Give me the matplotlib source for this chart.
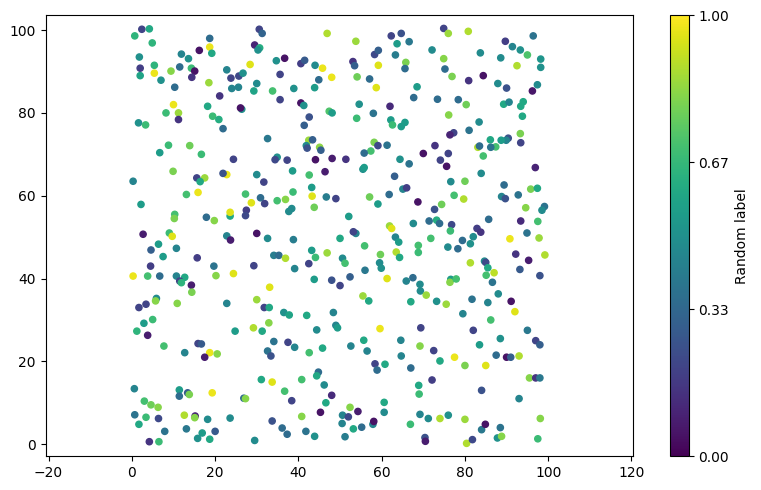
import matplotlib
matplotlib.use("Agg")
import matplotlib.pyplot as plt

# values, grouped by region (top band, middle band, bottom band)
x_top = [2.4, 4.2, 0.7, 4.9, 18.7, 18.7, 16.2, 19.2, 1.8, 11.9, 13.6, 5.4, 2.0, 2.0, 5.4, 9.4, 11.5, 14.3, 15.1, 14.4,
         7.0, 10.3, 18.5, 21.1, 10.0, 11.2, 11.2, 8.2, 18.2, 19.4, 20.9, 21.9, 1.6, 3.3, 8.8, 6.7, 13.9, 16.7,
         30.6, 31.3, 46.9, 29.5, 30.7, 30.3, 28.4, 34.7, 36.7, 40.6, 41.5, 44.0, 45.8, 48.0, 44.9, 43.9,
         22.8, 23.8, 24.0, 25.7, 26.7, 25.6, 30.0, 29.3, 33.8, 38.9, 35.6, 35.6, 26.4, 26.1,
         40.6, 41.3, 47.4, 48.1, 42.6, 41.4, 32.6, 42.5, 43.4, 41.9, 42.1, 45.1, 45.4, 24.4, 34.9, 34.4, 37.3, 44.1, 48.1,
         53.8, 62.3, 64.7, 63.7, 66.6, 58.3, 59.2, 63.3, 72.1, 53.1, 53.5, 59.2, 65.8, 65.6, 54.1, 57.1, 58.7,
         68.5, 67.7, 73.4, 54.6, 62.0, 58.0, 54.0, 62.2, 62.6, 65.6, 64.7, 58.2, 59.1, 57.4, 55.8, 61.3, 70.0,
         72.8, 51.4, 64.4,
         74.9, 76.0, 80.8, 96.4, 89.7, 91.4, 93.3, 95.0, 98.2, 98.2, 83.7, 88.6, 92.5, 74.9, 75.2, 76.9, 80.9,
         84.4, 87.9, 90.0, 97.4, 96.2, 78.4, 80.3, 89.3, 90.6, 94.0, 93.4, 93.8, 76.1, 83.4, 81.0, 77.3, 76.4,
         93.3, 93.4, 90.4, 89.9, 88.7, 86.1, 87.4, 86.2, 83.1, 83.5, 84.4, 76.0, 74.1]
y_top = [100.2, 100.3, 98.6, 96.9, 98.0, 95.9, 95.1, 94.4, 93.5, 94.2, 93.1, 91.5, 90.8, 89.0, 89.6, 90.1, 91.1, 90.8,
         90.1, 88.6, 87.9, 86.2, 87.3, 84.1, 82.0, 80.0, 78.4, 80.0, 81.6, 79.2, 78.4, 76.2, 77.6, 77.1, 72.2, 70.4,
         72.1, 70.0,
         100.2, 99.2, 99.2, 96.4, 95.7, 95.2, 91.7, 92.6, 93.2, 91.9, 92.7, 91.5, 90.8, 88.6, 88.0, 86.1,
         90.4, 88.4, 85.9, 88.9, 89.6, 86.2, 87.1, 85.3, 85.3, 85.9, 89.3, 83.2, 80.9, 81.2,
         82.4, 81.8, 80.4, 80.0, 79.0, 77.0, 73.8, 73.4, 73.5, 72.1, 71.5, 71.7, 71.0, 68.8, 69.3, 68.7, 68.6, 68.7, 69.0,
         97.3, 98.6, 99.2, 96.7, 97.2, 94.1, 95.1, 94.0, 95.2, 92.4, 91.4, 91.5, 92.2, 90.7, 88.7, 88.2, 86.1,
         86.3, 83.7, 83.3, 82.1, 81.6, 79.9, 78.7, 78.3, 77.1, 77.7, 76.7, 72.9, 72.1, 70.8, 70.3, 72.2, 70.2,
         72.1, 68.8, 68.8,
         100.4, 99.2, 99.7, 98.6, 97.3, 96.0, 95.2, 94.0, 93.0, 91.0, 94.5, 93.3, 91.4, 93.1, 90.6, 88.8, 87.8,
         89.0, 87.1, 86.0, 86.8, 85.3, 83.2, 82.0, 82.1, 82.6, 82.7, 81.6, 79.2, 79.5, 77.8, 75.8, 75.2, 74.7,
         75.0, 72.8, 73.9, 73.4, 73.4, 73.5, 71.8, 71.7, 71.7, 72.0, 69.6, 70.2, 68.6]
c_top = [0.2, 0.6, 0.65, 0.65, 0.35, 0.97, 0.05, 0.6, 0.5, 0.45, 0.5, 0.65, 0.18, 0.58, 0.97, 0.82, 0.35, 0.68, 0.05,
         0.15, 0.5, 0.35, 0.85, 0.15, 0.97, 0.85, 0.15, 0.68, 0.6, 0.68, 0.62, 0.35, 0.5, 0.68, 0.68, 0.55, 0.78, 0.68,
         0.2, 0.32, 0.88, 0.1, 0.62, 0.5, 0.95, 0.5, 0.05, 0.18, 0.28, 0.48, 0.97, 0.97, 0.35, 0.55,
         0.45, 0.2, 0.45, 0.22, 0.5, 0.45, 0.48, 0.58, 0.7, 0.5, 0.2, 0.2, 0.5, 0.05,
         0.05, 0.5, 0.72, 0.55, 0.25, 0.3, 0.4, 0.85, 0.3, 0.48, 0.25, 0.83, 0.3, 0.2, 0.5, 0.22, 0.2, 0.05, 0.08,
         0.85, 0.2, 0.25, 0.55, 0.4, 0.22, 0.3, 0.42, 0.48, 0.15, 0.3, 0.95, 0.8, 0.35, 0.78, 0.35, 0.95,
         0.55, 0.35, 0.35, 0.5, 0.12, 0.38, 0.68, 0.55, 0.68, 0.55, 0.55, 0.8, 0.22, 0.7, 0.35, 0.38, 0.05,
         0.15, 0.15, 0.5,
         0.2, 0.85, 0.88, 0.38, 0.18, 0.45, 0.5, 0.72, 0.52, 0.5, 0.48, 0.48, 0.88, 0.82, 0.35, 0.8, 0.15,
         0.05, 0.48, 0.25, 0.48, 0.06, 0.35, 0.78, 0.6, 0.45, 0.6, 0.6, 0.6, 0.82, 0.48, 0.38, 0.2, 0.1,
         0.8, 0.2, 0.25, 0.45, 0.55, 0.6, 0.7, 0.38, 0.88, 0.35, 0.7, 0.2, 0.2]

x_mid = [9.9, 0.3, 15.6, 17.5, 16.4, 22.8, 21.9, 13.1, 15.9, 2.2, 10.3, 10.2, 17.9, 19.8, 2.7, 9.0, 9.7, 6.4, 4.6,
         10.7, 7.5, 15.7, 4.5, 19.7, 0.3, 3.8, 6.7, 10.7, 12.7, 11.5, 11.9, 14.3, 20.2, 14.4, 5.9, 5.7,
         30.0, 31.7, 38.6, 42.6, 46.4, 43.2, 43.3, 46.7, 27.3, 30.9, 31.9, 28.7, 34.9, 36.9, 38.7, 43.8, 38.4,
         37.7, 23.6, 23.6, 27.5, 27.3, 22.8, 23.7, 30.0, 32.6, 38.8, 43.2, 46.9, 44.1, 34.1, 35.3, 36.9, 42.5,
         29.3, 39.1, 24.4, 43.8, 48.0, 33.1, 30.0,
         66.6, 55.5, 55.8, 63.1, 65.1, 66.0, 57.1, 61.8, 49.0, 59.1, 68.7, 72.7, 52.1, 61.9, 62.4, 67.6, 71.4,
         53.8, 53.2, 50.0, 63.3, 64.1, 71.8, 55.9, 68.8, 68.8, 63.5, 64.3, 59.7, 50.6, 51.2, 59.5, 59.9, 56.0,
         52.4, 61.3, 50.0, 67.5, 65.9, 69.2, 69.3, 70.7, 73.2, 55.5, 56.9, 67.0,
         75.6, 96.9, 83.9, 76.6, 80.0, 89.4, 95.8, 97.4, 77.4, 79.7, 88.8, 89.7, 92.8, 74.4, 94.6, 99.1, 98.5,
         73.2, 73.9, 85.7, 93.4, 97.5, 76.8, 76.5, 82.9, 83.8, 82.0, 79.4, 81.3, 75.9, 78.3, 90.8, 94.9, 97.8,
         92.2, 95.3, 99.2, 93.2, 98.0, 81.3, 84.7, 85.0, 85.5, 87.0, 85.1, 86.6, 76.6, 76.4, 77.9, 88.0, 81.7,
         85.5, 91.1]
y_mid = [65.9, 63.5, 64.3, 64.3, 63.4, 65.1, 65.4, 60.3, 60.8, 57.9, 55.5, 54.5, 54.8, 54.0, 50.7, 51.0, 50.2, 48.3,
         46.9, 47.3, 45.3, 45.0, 43.0, 43.0, 40.6, 40.6, 40.6, 40.6, 40.3, 39.4, 39.0, 38.4, 40.7, 36.7, 35.2, 34.6,
         65.1, 63.3, 66.0, 65.0, 65.8, 62.0, 59.9, 59.7, 60.4, 59.5, 58.1, 58.3, 58.8, 59.1, 60.9, 57.2, 56.9,
         56.2, 55.1, 56.0, 56.5, 55.2, 50.3, 49.3, 50.9, 49.7, 49.4, 46.8, 46.2, 45.1, 45.6, 45.6, 44.9, 43.6,
         43.1, 42.4, 41.2, 39.8, 39.6, 37.9, 34.9,
         67.7, 66.4, 66.8, 64.7, 61.6, 61.9, 59.7, 60.3, 59.3, 58.0, 58.5, 56.7, 55.0, 52.7, 52.1, 53.3, 53.9,
         50.9, 51.3, 49.7, 50.0, 48.8, 49.7, 47.9, 48.0, 46.3, 46.4, 45.1, 45.8, 44.9, 43.7, 43.8, 42.5, 42.0,
         40.4, 40.0, 38.3, 40.2, 39.4, 38.6, 37.0, 36.0, 34.5, 35.8, 34.6, 34.4,
         67.1, 66.8, 65.4, 63.4, 63.5, 62.6, 61.6, 61.8, 60.1, 59.2, 59.8, 59.3, 60.2, 57.9, 57.1, 57.4, 56.5,
         54.1, 53.3, 54.3, 53.9, 53.8, 53.0, 51.5, 52.1, 51.2, 50.1, 49.2, 48.4, 47.6, 47.2, 49.6, 51.0, 49.8,
         45.9, 44.4, 45.7, 42.2, 40.7, 43.8, 44.2, 43.9, 42.6, 41.4, 40.8, 39.1, 39.8, 39.1, 39.9, 36.3, 35.0,
         34.2, 34.5]
c_mid = [0.8, 0.45, 0.2, 0.85, 0.6, 0.97, 0.25, 0.7, 0.97, 0.55, 0.7, 0.8, 0.35, 0.82, 0.08, 0.68, 0.95, 0.55, 0.3,
         0.45, 0.55, 0.18, 0.18, 0.38, 0.97, 0.7, 0.35, 0.45, 0.6, 0.2, 0.65, 0.08, 0.82, 0.8, 0.48, 0.82,
         0.48, 0.2, 0.55, 0.7, 0.08, 0.55, 0.95, 0.42, 0.7, 0.35, 0.2, 0.95, 0.7, 0.82, 0.68, 0.78, 0.48,
         0.48, 0.6, 0.95, 0.18, 0.22, 0.45, 0.08, 0.05, 0.48, 0.42, 0.55, 0.85, 0.68, 0.42, 0.35, 0.88, 0.2,
         0.2, 0.45, 0.95, 0.55, 0.25, 0.95, 0.85,
         0.38, 0.5, 0.55, 0.3, 0.45, 0.18, 0.78, 0.35, 0.2, 0.55, 0.05, 0.25, 0.55, 0.85, 0.95, 0.48, 0.35,
         0.45, 0.2, 0.6, 0.45, 0.55, 0.7, 0.7, 0.7, 0.68, 0.88, 0.6, 0.78, 0.48, 0.7, 0.48, 0.5, 0.4,
         0.3, 0.95, 0.2, 0.35, 0.45, 0.48, 0.48, 0.85, 0.5, 0.85, 0.6, 0.6,
         0.05, 0.1, 0.48, 0.48, 0.78, 0.35, 0.8, 0.6, 0.7, 0.88, 0.45, 0.25, 0.38, 0.78, 0.82, 0.38, 0.48,
         0.62, 0.35, 0.35, 0.12, 0.7, 0.22, 0.68, 0.18, 0.15, 0.48, 0.35, 0.5, 0.48, 0.35, 0.97, 0.38, 0.85,
         0.15, 0.08, 0.88, 0.28, 0.25, 0.88, 0.48, 0.22, 0.6, 0.9, 0.7, 0.38, 0.55, 0.82, 0.7, 0.48, 0.38,
         0.45, 0.05]

x_low = [1.7, 3.4, 10.9, 22.8, 2.9, 5.0, 1.2, 3.8, 7.7, 15.9, 16.7, 12.7, 18.7, 20.5, 17.5, 0.6, 11.4, 11.4, 13.4,
         13.8, 19.3, 3.0, 4.6, 6.3, 0.7, 3.4, 6.4, 1.7, 12.6, 15.2, 15.1, 18.2, 7.9, 13.1, 16.9, 15.8, 18.7, 20.0,
         4.2, 6.5,
         31.8, 33.0, 36.5, 37.8, 42.0, 48.4, 29.2, 32.9, 31.3, 24.8, 44.4, 34.1, 37.5, 39.1, 32.6, 33.4, 42.6,
         45.8, 31.1, 33.7, 40.8, 44.8, 44.4, 46.2, 36.7, 26.9, 27.3, 38.4, 48.0, 46.6, 45.3, 40.8, 23.6, 33.7,
         36.1, 37.3, 41.8, 43.9, 29.5,
         49.0, 49.4, 59.6, 69.4, 55.7, 64.6, 69.2, 72.5, 52.6, 56.5, 74.0, 58.4, 60.8, 58.9, 64.7, 67.0, 72.1,
         68.9, 69.0, 60.6, 60.6, 52.4, 54.3, 50.6, 52.0, 50.5, 53.2, 55.2, 57.9, 58.1, 51.2, 69.2, 71.2, 66.9,
         70.4, 70.5, 74.0,
         75.5, 79.5, 86.2, 82.0, 88.5, 83.5, 92.0, 95.0, 97.0, 98.0, 90.0, 91.0, 93.0, 80.0, 77.5, 85.0, 87.5,
         95.5, 97.0, 98.0, 84.0, 80.0, 76.0, 93.0, 84.0, 88.5, 80.4, 81.8, 87.8, 88.8, 97.5, 84.9, 98.1]
y_low = [33.0, 33.8, 34.0, 34.0, 29.2, 30.1, 27.3, 26.3, 23.7, 24.3, 24.2, 22.1, 22.1, 21.8, 21.0, 13.4, 13.1, 11.6,
         12.4, 12.0, 12.4, 10.4, 9.5, 8.9, 7.1, 6.5, 6.2, 4.8, 7.0, 6.8, 6.4, 6.0, 3.1, 3.7, 2.7, 1.4, 1.2, 3.1,
         0.6, 0.6,
         33.0, 33.0, 31.8, 31.2, 31.1, 31.8, 28.1, 29.3, 27.3, 27.3, 27.6, 24.8, 24.6, 23.4, 22.5, 21.3, 22.1,
         23.2, 15.6, 15.0, 15.6, 17.4, 16.5, 14.3, 12.8, 11.1, 11.0, 10.5, 11.8, 10.0, 7.7, 6.7, 6.3, 5.6,
         3.9, 2.4, 3.1, 1.9, 0.9,
         28.7, 28.1, 27.9, 28.1, 25.1, 25.1, 23.7, 22.6, 23.7, 22.5, 20.1, 19.4, 19.3, 17.9, 21.3, 18.4, 15.5,
         14.2, 12.1, 10.1, 7.7, 8.9, 7.9, 7.0, 6.6, 5.0, 3.7, 4.1, 4.8, 5.5, 1.8, 7.2, 6.2, 4.8,
         1.6, 0.7, 6.2,
         33.8, 31.5, 30.0, 27.5, 25.5, 24.0, 32.0, 27.5, 25.0, 24.0, 21.0, 21.0, 21.3, 19.0, 21.0, 19.0, 21.5,
         16.0, 16.0, 16.0, 13.0, 6.0, 7.0, 11.0, 3.5, 4.0, 0.2, 1.1, 1.5, 1.9, 1.3, 4.8, 6.2]
c_low = [0.2, 0.2, 0.82, 0.45, 0.55, 0.68, 0.65, 0.08, 0.7, 0.2, 0.28, 0.45, 0.97, 0.82, 0.08, 0.45, 0.55, 0.35, 0.28,
         0.8, 0.97, 0.7, 0.78, 0.82, 0.38, 0.68, 0.22, 0.6, 0.88, 0.1, 0.82, 0.48, 0.38, 0.4, 0.55, 0.5, 0.6, 0.28,
         0.15, 0.68,
         0.2, 0.6, 0.5, 0.58, 0.6, 0.45, 0.88, 0.82, 0.6, 0.55, 0.48, 0.38, 0.2, 0.45, 0.38, 0.25, 0.7,
         0.6, 0.6, 0.95, 0.7, 0.35, 0.6, 0.48, 0.7, 0.35, 0.82, 0.2, 0.12, 0.6, 0.05, 0.82, 0.48, 0.25,
         0.35, 0.35, 0.38, 0.5, 0.48,
         0.45, 0.55, 0.97, 0.2, 0.6, 0.45, 0.82, 0.2, 0.45, 0.45, 0.6, 0.2, 0.6, 0.35, 0.45, 0.35, 0.18,
         0.6, 0.68, 0.6, 0.48, 0.82, 0.08, 0.45, 0.22, 0.45, 0.6, 0.35, 0.45, 0.05, 0.42, 0.45, 0.48, 0.68,
         0.25, 0.08, 0.88,
         0.85, 0.45, 0.7, 0.2, 0.5, 0.55, 0.95, 0.4, 0.2, 0.3, 0.05, 0.3, 0.88, 0.8, 0.97, 0.95, 0.35,
         0.82, 0.15, 0.4, 0.25, 0.85, 0.5, 0.45, 0.4, 0.38, 0.88, 0.22, 0.5, 0.82, 0.68, 0.05, 0.82]

cbar_ticks = [0.0, 1 / 3, 2 / 3, 1.0]
cbar_tick_labels = ["0.00", "0.33", "0.67", "1.00"]
x_ticks = [-20, 0, 20, 40, 60, 80, 100, 120]
y_ticks = [0, 20, 40, 60, 80, 100]

x_vals = x_top + x_mid + x_low
y_vals = y_top + y_mid + y_low
c_vals = c_top + c_mid + c_low

fig = plt.figure(figsize=(7.61, 4.9), dpi=100)
ax = fig.add_axes([0.060, 0.069, 0.772, 0.900])
cax = fig.add_axes([0.880, 0.069, 0.025, 0.900])

sc = ax.scatter(x_vals, y_vals, c=c_vals, cmap="viridis", vmin=0, vmax=1, s=20)
ax.set_xlim(-20.7, 120.4)
ax.set_ylim(-2.9, 103.6)
ax.set_xticks(x_ticks)
ax.set_yticks(y_ticks)

cbar = fig.colorbar(sc, cax=cax, ticks=cbar_ticks)
cbar.ax.set_yticklabels(cbar_tick_labels)
cbar.set_label("Random label")

fig.savefig("out.png", dpi=100)
